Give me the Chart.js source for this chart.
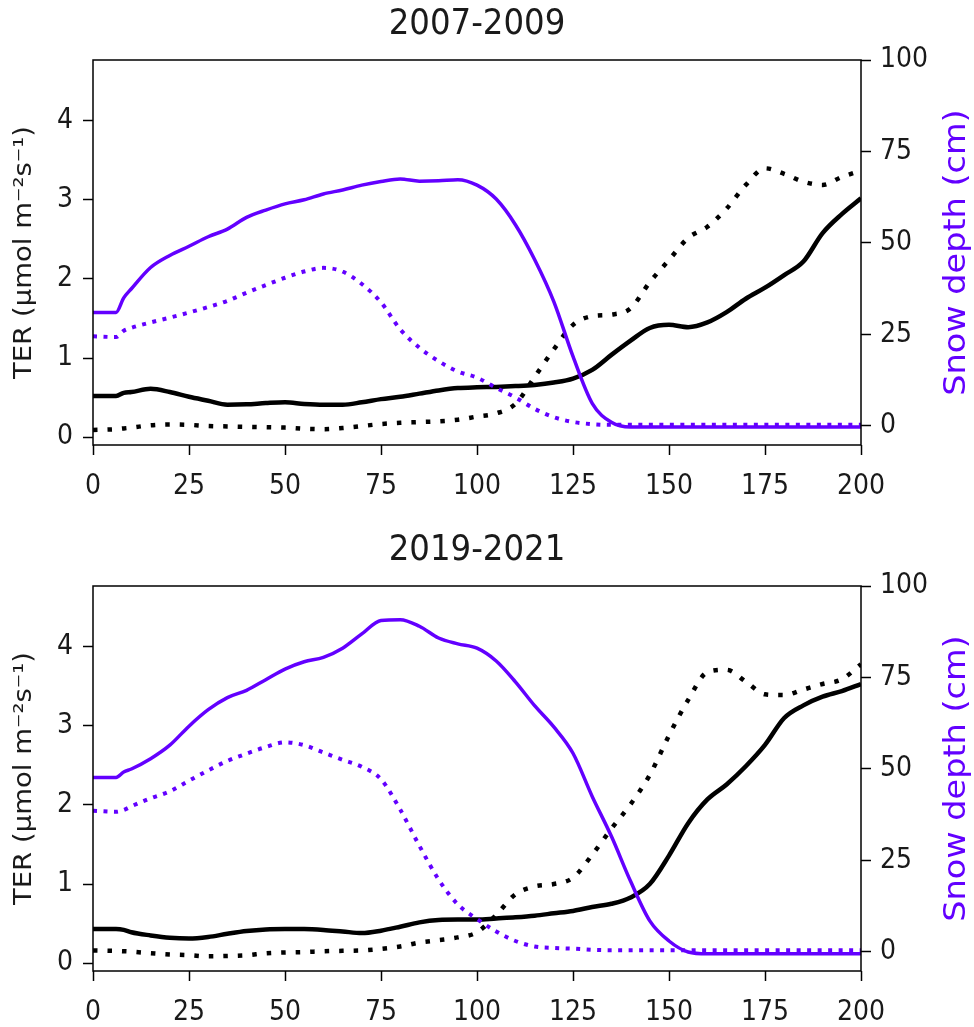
<!DOCTYPE html>
<html>
<head>
  <meta charset="utf-8">
  <title>TER and snow depth, 2007-2009 vs 2019-2021</title>
  <style>
    body { margin: 0; background: #fff; overflow: hidden; }
    .panel { position: absolute; left: 0; width: 974px; height: 513px; }
    #panelTop { top: 0; }
    #panelBottom { top: 526px; }
  </style>
</head>
<body>
  <div class="panel" id="panelTop"><canvas id="chartTop"></canvas></div>
  <div class="panel" id="panelBottom"><canvas id="chartBottom"></canvas></div>
  <script src="https://cdn.jsdelivr.net/npm/chart.js"></script>
  <script>
    // day of season (x)
    const days = [0, 6, 8, 10, 15, 20, 25, 30, 35, 40, 45, 50, 55, 60, 65, 70, 75, 80, 85, 90, 95, 100,
                  105, 110, 115, 120, 125, 130, 135, 140, 145, 150, 155, 160, 165, 170, 175, 180, 185, 190, 195, 200];

    // 2007-2009
    const snowSolidA = [31, 31, 35, 37.5, 43.3, 46.6, 49.1, 51.7, 53.8, 57, 59, 60.7, 61.8, 63.4, 64.5, 65.8, 66.8, 67.5, 66.9, 67, 67.3, 65.8,
                        62, 55, 45.5, 34, 19, 6.2, 1.0, -0.3, -0.3, -0.3, -0.3, -0.3, -0.3, -0.3, -0.3, -0.3, -0.3, -0.3, -0.3, -0.3];
    const snowDottedA = [24.5, 24.3, 26, 26.8, 28.3, 29.6, 31, 32.5, 34.2, 36.4, 38.5, 40.5, 42.2, 43.2, 42.2, 38.8, 33.8, 26.4, 21.4, 17.7, 14.9, 13.2,
                         10.4, 7.8, 4.7, 2.4, 1.1, 0.5, 0.3, 0.3, 0.3, 0.3, 0.3, 0.3, 0.3, 0.3, 0.3, 0.3, 0.3, 0.3, 0.3, 0.3];
    const terSolidA = [0.52, 0.52, 0.56, 0.57, 0.61, 0.57, 0.51, 0.46, 0.41, 0.415, 0.43, 0.44, 0.42, 0.41, 0.41, 0.44, 0.48, 0.51, 0.55, 0.59, 0.62, 0.63,
                       0.635, 0.645, 0.66, 0.69, 0.74, 0.85, 1.04, 1.22, 1.38, 1.42, 1.39, 1.45, 1.58, 1.75, 1.89, 2.05, 2.22, 2.58, 2.82, 3.02];
    const terDottedA = [0.09, 0.10, 0.11, 0.12, 0.15, 0.16, 0.155, 0.14, 0.135, 0.13, 0.125, 0.12, 0.105, 0.10, 0.115, 0.14, 0.165, 0.18, 0.19, 0.2, 0.22, 0.26,
                        0.3, 0.42, 0.76, 1.11, 1.42, 1.53, 1.55, 1.63, 1.96, 2.24, 2.52, 2.66, 2.89, 3.19, 3.40, 3.33, 3.23, 3.19, 3.29, 3.37];

    // 2019-2021
    const snowSolidB = [47.7, 47.7, 49.2, 50, 52.8, 56.5, 61.7, 66.2, 69.5, 71.5, 74.4, 77.3, 79.3, 80.5, 83, 86.9, 90.6, 90.8, 89, 85.8, 84.2, 83,
                        79.5, 73.8, 67.3, 61.5, 54.3, 42.5, 31.6, 19.3, 8.5, 3.0, 0, -0.5, -0.5, -0.5, -0.5, -0.5, -0.5, -0.5, -0.5, -0.5];
    const snowDottedB = [38.6, 38.3, 38.8, 39.8, 42, 43.9, 46.8, 49.6, 52.2, 54.2, 56, 57.3, 56.5, 54.5, 52.5, 50.6, 47.2, 38.9, 29, 19.8, 13, 9.0,
                         5.6, 3.0, 1.5, 1.1, 0.9, 0.6, 0.5, 0.5, 0.5, 0.5, 0.5, 0.5, 0.5, 0.5, 0.5, 0.5, 0.5, 0.5, 0.5, 0.5];
    const terSolidB = [0.43, 0.43, 0.42, 0.39, 0.35, 0.32, 0.31, 0.33, 0.37, 0.405, 0.425, 0.43, 0.43, 0.42, 0.40, 0.38, 0.41, 0.46, 0.515, 0.545, 0.55, 0.55,
                       0.565, 0.58, 0.6, 0.63, 0.66, 0.71, 0.75, 0.83, 1.0, 1.36, 1.77, 2.07, 2.26, 2.49, 2.76, 3.1, 3.26, 3.37, 3.44, 3.53];
    const terDottedB = [0.16, 0.155, 0.15, 0.145, 0.125, 0.11, 0.10, 0.085, 0.09, 0.10, 0.125, 0.135, 0.14, 0.15, 0.155, 0.16, 0.18, 0.21, 0.26, 0.29, 0.325, 0.39,
                        0.61, 0.87, 0.97, 1.0, 1.08, 1.37, 1.70, 2.01, 2.38, 2.88, 3.33, 3.68, 3.71, 3.56, 3.4, 3.39, 3.46, 3.53, 3.59, 3.78];

    const dayTicks = [0, 25, 50, 75, 100, 125, 150, 175, 200];
    const terTicks = [0, 1, 2, 3, 4];
    const snowTicks = [0, 25, 50, 75, 100];

    const PURPLE = '#6300ff';
    const FONT = "'DejaVu Sans Condensed', 'DejaVu Sans', sans-serif";
    const FONT_REG = "'DejaVu Sans', sans-serif";
    const TEXT = '#1a1a1a';

    const tickGrid = { display: true, drawOnChartArea: false, drawTicks: true, tickLength: 10, tickWidth: 1.5, tickColor: '#000' };
    const setTicks = list => scale => { scale.ticks = list.map(v => ({ value: v })); };

    // rotated label reading bottom to top, a little narrow like the source image
    function sideLabel(ctx, text, x, y, font, color) {
      ctx.save();
      ctx.translate(x, y);
      ctx.scale(0.9, 1);
      ctx.rotate(-Math.PI / 2);
      ctx.font = font;
      ctx.fillStyle = color;
      ctx.textAlign = 'center';
      ctx.textBaseline = 'middle';
      ctx.fillText(text, 0, 0);
      ctx.restore();
    }

    // spines, panel title and the two axis labels
    const framePlugin = {
      id: 'frame',
      afterDraw(chart, args, opts) {
        const { ctx, chartArea: a } = chart;
        const midY = (a.top + a.bottom) / 2;
        ctx.save();
        ctx.strokeStyle = '#000';
        ctx.lineWidth = 1.5;
        ctx.strokeRect(a.left, a.top, a.right - a.left, a.bottom - a.top);
        ctx.fillStyle = TEXT;
        ctx.font = '36px ' + FONT;
        ctx.textAlign = 'center';
        ctx.textBaseline = 'middle';
        ctx.fillText(opts.title, (a.left + a.right) / 2, 25);
        ctx.restore();
        sideLabel(ctx, 'TER (\u03bcmol m\u207b\u00b2s\u207b\u00b9)', 25, midY, '27.5px ' + FONT_REG, TEXT);
        sideLabel(ctx, 'Snow depth (cm)', 957, midY, '33.5px ' + FONT_REG, PURPLE);
      }
    };

    function makeChart(id, title, snowSolid, snowDotted, terSolid, terDotted) {
      return new Chart(document.getElementById(id), {
        type: 'line',
        data: {
          labels: days,
          datasets: [
            { data: snowSolid, yAxisID: 'snow', borderColor: PURPLE, borderWidth: 3.5 },
            { data: snowDotted, yAxisID: 'snow', borderColor: PURPLE, borderWidth: 4, borderDash: [4, 6.5] },
            { data: terSolid, yAxisID: 'ter', borderColor: '#000', borderWidth: 4.5 },
            { data: terDotted, yAxisID: 'ter', borderColor: '#000', borderWidth: 4.5, borderDash: [4.5, 10] }
          ]
        },
        options: {
          responsive: true,
          maintainAspectRatio: false,
          animation: false,
          layout: { padding: { top: 60, left: 0, right: 0, bottom: 0 } },
          elements: {
            point: { radius: 0 },
            line: { cubicInterpolationMode: 'monotone', borderCapStyle: 'butt', fill: false }
          },
          plugins: {
            legend: { display: false },
            tooltip: { enabled: false },
            frame: { title: title }
          },
          scales: {
            x: {
              type: 'linear', min: 0, max: 200,
              afterBuildTicks: setTicks(dayTicks),
              afterFit: s => { s.height = 68; },
              grid: tickGrid,
              border: { display: false },
              ticks: { color: TEXT, padding: 15, font: { family: FONT, size: 28 }, maxRotation: 0 }
            },
            ter: {
              type: 'linear', position: 'left', min: -0.1, max: 4.77,
              afterBuildTicks: setTicks(terTicks),
              afterFit: s => { s.width = 93; },
              grid: tickGrid,
              border: { display: false },
              ticks: { color: TEXT, padding: 10, font: { family: FONT, size: 28 } }
            },
            snow: {
              type: 'linear', position: 'right', min: -5.2, max: 100,
              afterBuildTicks: setTicks(snowTicks),
              afterFit: s => { s.width = 113; },
              grid: tickGrid,
              border: { display: false },
              ticks: { color: TEXT, padding: 9, font: { family: FONT, size: 28 } }
            }
          }
        },
        plugins: [framePlugin]
      });
    }

    makeChart('chartTop', '2007-2009', snowSolidA, snowDottedA, terSolidA, terDottedA);
    makeChart('chartBottom', '2019-2021', snowSolidB, snowDottedB, terSolidB, terDottedB);
  </script>
</body>
</html>
